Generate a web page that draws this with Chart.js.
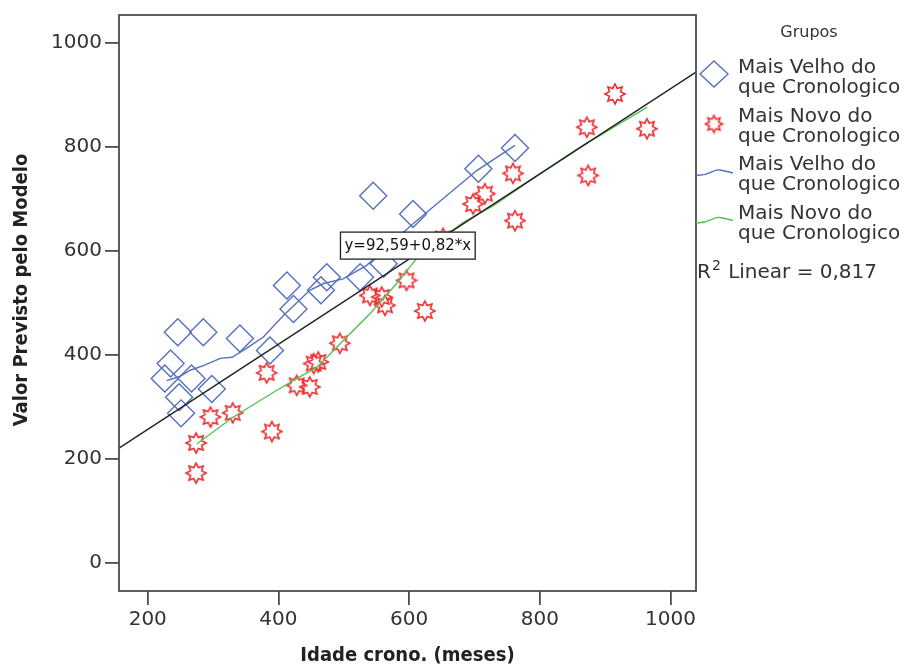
<!DOCTYPE html>
<html>
<head>
<meta charset="utf-8">
<script src="https://cdn.jsdelivr.net/npm/chart.js@4.4.1/dist/chart.umd.min.js"></script>
<style>
  html, body { margin: 0; padding: 0; background: #fff; }
  #wrap { width: 914px; height: 666px; }
</style>
</head>
<body>
<div id="wrap"><canvas id="chart" width="914" height="666"></canvas></div>
<script>
// =======================
// Data
// =======================

// Mais Velho do que Cronologico (diamonds)
const velhoX = [246, 285, 235, 226, 267, 298, 248, 251, 341, 387, 413, 423, 465, 474, 525, 561, 545, 606, 706, 762];
const velhoY = [443, 443, 383, 354, 354, 334, 318, 287, 431, 408, 533, 488, 524, 549, 549, 575, 706, 671, 758, 798];

// Mais Novo do que Cronologico (stars)
const novoX = [274, 274, 296, 330, 390, 382, 428, 448, 454, 461, 494, 540, 558, 563, 596, 624, 652, 698, 716, 759, 762, 872, 915, 874, 964];
const novoY = [230, 172, 280, 288, 252, 365, 341, 338, 383, 386, 422, 514, 511, 495, 543, 484, 624, 690, 710, 749, 658, 838, 902, 745, 835];

// loess curves per group
const loessVelhoX = [229, 249, 265, 285, 311, 329, 351, 377, 408, 448, 469, 499, 535, 606, 703, 762];
const loessVelhoY = [350, 358, 370, 379, 393, 395, 412, 434, 476, 524, 537, 546, 572, 652, 754, 803];
const loessNovoX = [275, 331, 397, 428, 459, 499, 540, 581, 617, 683, 729, 785, 861, 964];
const loessNovoY = [228, 280, 331, 354, 376, 427, 479, 537, 594, 655, 687, 735, 799, 876];

// overall linear fit, y = 92,59 + 0,82*x
const fitX = [156, 1039];
const fitY = [220, 944];

const xTicks = [200, 400, 600, 800, 1000];
const yTicks = [0, 200, 400, 600, 800, 1000];

const groupNames = ["Mais Velho do|que Cronologico", "Mais Novo do|que Cronologico"];
const legendTitle = "Grupos";
const fitLabel = "y=92,59+0,82*x";
const r2Text = " Linear = 0,817";
const xTitle = "Idade crono. (meses)";
const yTitle = "Valor Previsto pelo Modelo";


// =======================
// Styles
// =======================

const BLUE = "#5470c0";
const RED = "#ee2a2e";
const GREEN = "#55c055";
const FRAME = "#4d4d4d";
const TEXT = "#333333";
const FONT = "'DejaVu Sans', 'Liberation Sans', sans-serif";
const FONT_BOLD = "'DejaVu Sans Condensed', 'Liberation Sans Narrow', 'DejaVu Sans', sans-serif";

function toPoints(xs, ys) {
  return xs.map((x, i) => ({ x: x, y: ys[i] }));
}

// 8-pointed hollow star, like the SPSS marker
function makeStar(outer, inner, color) {
  const size = Math.ceil(outer * 2 + 4);
  const c = document.createElement("canvas");
  c.width = size;
  c.height = size;
  const g = c.getContext("2d");
  const m = size / 2;
  g.beginPath();
  for (let i = 0; i < 16; i++) {
    const a = i * Math.PI / 8 - Math.PI / 2;
    const r = i % 2 === 0 ? outer : inner;
    const px = m + r * Math.cos(a);
    const py = m + r * Math.sin(a);
    if (i === 0) g.moveTo(px, py); else g.lineTo(px, py);
  }
  g.closePath();
  g.strokeStyle = color;
  g.lineWidth = 1.6;
  g.stroke();
  return c;
}

const starMark = makeStar(10, 6, RED);
const starLegend = makeStar(8.5, 5, RED);


// =======================
// Extra drawing (frame, fit label, y title, legend)
// =======================

const extras = {
  id: "extras",
  afterDatasetsDraw(chart) {
    const ctx = chart.ctx;
    const a = chart.chartArea;
    const xs = chart.scales.x;
    const ys = chart.scales.y;

    // frame
    ctx.save();
    ctx.strokeStyle = FRAME;
    ctx.lineWidth = 1.8;
    ctx.strokeRect(a.left, a.top, a.right - a.left, a.bottom - a.top);

    // fit equation box
    ctx.font = "15px " + FONT;
    const cx = xs.getPixelForValue(598);
    const cy = ys.getPixelForValue(610);
    const tw = ctx.measureText(fitLabel).width;
    const bw = tw + 8, bh = 27;
    ctx.fillStyle = "#fff";
    ctx.fillRect(cx - bw / 2, cy - bh / 2, bw, bh);
    ctx.strokeStyle = "#222";
    ctx.lineWidth = 1.3;
    ctx.strokeRect(cx - bw / 2, cy - bh / 2, bw, bh);
    ctx.fillStyle = "#111";
    ctx.textAlign = "center";
    ctx.textBaseline = "middle";
    ctx.fillText(fitLabel, cx, cy + 1);

    // y axis title
    ctx.save();
    ctx.translate(22, 290);
    ctx.rotate(-Math.PI / 2);
    ctx.font = "bold 20px " + FONT_BOLD;
    ctx.fillStyle = "#222";
    ctx.fillText(yTitle, 0, 0);
    ctx.restore();

    // legend
    ctx.fillStyle = TEXT;
    ctx.textAlign = "center";
    ctx.font = "16px " + FONT;
    ctx.fillText(legendTitle, 809, 33);

    ctx.textAlign = "left";
    ctx.textBaseline = "alphabetic";
    ctx.font = "20px " + FONT;
    const tx = 738;
    const rows = [73, 121.5, 170, 218.5];
    rows.forEach((base, i) => {
      const lines = groupNames[i % 2].split("|");
      ctx.fillText(lines[0], tx, base);
      ctx.fillText(lines[1], tx, base + 20);
    });

    // legend markers
    ctx.strokeStyle = BLUE;
    ctx.lineWidth = 1.4;
    ctx.beginPath();
    ctx.moveTo(700, 74);
    ctx.lineTo(714, 61);
    ctx.lineTo(728, 74);
    ctx.lineTo(714, 87);
    ctx.closePath();
    ctx.stroke();

    ctx.drawImage(starLegend, 714 - starLegend.width / 2, 124 - starLegend.height / 2);

    [[BLUE, 172], [GREEN, 219.5]].forEach(([col, y]) => {
      ctx.strokeStyle = col;
      ctx.lineWidth = 1.3;
      ctx.beginPath();
      ctx.moveTo(696, y + 3);
      ctx.bezierCurveTo(708, y + 5, 712, y - 3, 720, y - 2);
      ctx.bezierCurveTo(726, y - 1, 729, y, 733, y + 1);
      ctx.stroke();
    });

    // R squared
    ctx.fillStyle = TEXT;
    ctx.font = "20px " + FONT;
    ctx.fillText("R", 697, 278);
    const rw = ctx.measureText("R").width;
    ctx.font = "14px " + FONT;
    ctx.fillText("2", 697 + rw + 1, 270);
    const sw = ctx.measureText("2").width;
    ctx.font = "20px " + FONT;
    ctx.fillText(r2Text, 697 + rw + sw + 2, 278);

    ctx.restore();
  }
};


// =======================
// Chart
// =======================

const tickGrid = {
  drawOnChartArea: false,
  drawTicks: true,
  tickLength: 14,
  color: FRAME,
  lineWidth: 1.8
};

new Chart(document.getElementById("chart").getContext("2d"), {
  type: "scatter",
  data: {
    datasets: [
      {
        label: "fit",
        type: "line",
        data: toPoints(fitX, fitY),
        borderColor: "#222222",
        borderWidth: 1.4,
        pointRadius: 0,
        fill: false,
        order: 0
      },
      {
        label: "loess velho",
        type: "line",
        data: toPoints(loessVelhoX, loessVelhoY),
        borderColor: BLUE,
        borderWidth: 1.4,
        pointRadius: 0,
        fill: false,
        order: 0
      },
      {
        label: "loess novo",
        type: "line",
        data: toPoints(loessNovoX, loessNovoY),
        borderColor: GREEN,
        borderWidth: 1.4,
        pointRadius: 0,
        fill: false,
        order: 0
      },
      {
        label: "Mais Velho do que Cronologico",
        data: toPoints(velhoX, velhoY),
        pointStyle: "rectRot",
        pointRadius: 13.5,
        borderColor: BLUE,
        backgroundColor: "rgba(0,0,0,0)",
        borderWidth: 1.4,
        order: 1
      },
      {
        label: "Mais Novo do que Cronologico",
        data: toPoints(novoX, novoY),
        pointStyle: starMark,
        pointRadius: 10,
        borderColor: RED,
        order: 2
      }
    ]
  },
  options: {
    responsive: false,
    animation: false,
    devicePixelRatio: 1,
    layout: { padding: { top: 14, right: 218, bottom: 0, left: 0 } },
    plugins: {
      legend: { display: false },
      tooltip: { enabled: false }
    },
    scales: {
      x: {
        type: "linear",
        min: 156,
        max: 1039,
        afterBuildTicks: s => { s.ticks = xTicks.map(v => ({ value: v })); },
        afterFit: s => { s.height = 75; },
        grid: tickGrid,
        border: { display: false },
        ticks: {
          padding: 3,
          color: TEXT,
          font: { family: FONT, size: 20 },
          callback: v => String(v)
        },
        title: {
          display: true,
          text: xTitle,
          color: "#222",
          padding: { top: 0, bottom: 0 },
          font: { family: FONT_BOLD, size: 20, weight: "bold", lineHeight: 1 }
        }
      },
      y: {
        type: "linear",
        min: -55,
        max: 1054,
        afterBuildTicks: s => { s.ticks = yTicks.map(v => ({ value: v })); },
        afterFit: s => { s.width = 119; },
        grid: tickGrid,
        border: { display: false },
        ticks: {
          padding: 3,
          color: TEXT,
          font: { family: FONT, size: 20 },
          callback: v => String(v)
        }
      }
    }
  },
  plugins: [extras]
});
</script>
</body>
</html>
